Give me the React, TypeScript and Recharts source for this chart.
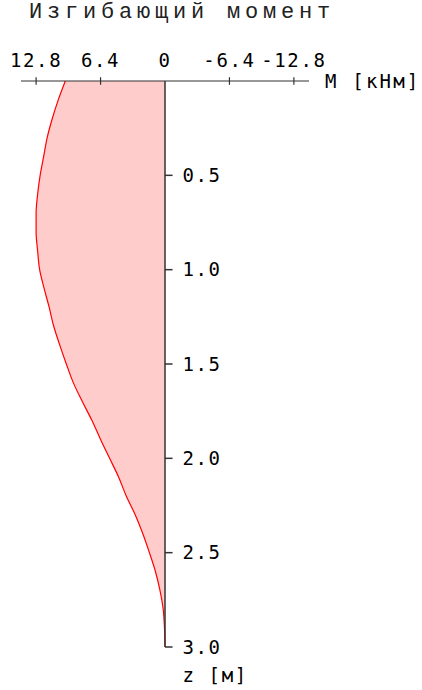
import { ComposedChart, Area, XAxis, YAxis, ReferenceLine } from 'recharts';

// глубина z [м] и изгибающий момент M [кНм]
const depth = [0, 0.1, 0.2, 0.3, 0.4, 0.5, 0.6, 0.7, 0.8, 0.9, 1.0, 1.1, 1.2, 1.3, 1.4, 1.5, 1.6, 1.7, 1.8, 1.9, 2.0, 2.1, 2.2, 2.3, 2.4, 2.5, 2.6, 2.7, 2.8, 2.9, 3.0];
const moment = [9.9, 10.6, 11.2, 11.7, 12.05, 12.4, 12.65, 12.8, 12.8, 12.65, 12.45, 12.0, 11.5, 11.05, 10.45, 9.8, 9.1, 8.2, 7.25, 6.4, 5.5, 4.6, 3.85, 2.95, 2.2, 1.55, 0.95, 0.5, 0.18, 0.05, 0];
const momentTicks = [12.8, 6.4, 0, -6.4, -12.8];
const depthTicks = [0.5, 1.0, 1.5, 2.0, 2.5, 3.0];

const data = depth.map((z, i) => ({ z, m: moment[i] }));

const mono = '"DejaVu Sans Mono", monospace';
const axisColor = '#333';
const labelStyle = { fill: '#000', fontSize: 19, fontFamily: mono, letterSpacing: 1.6 };

export default function App() {
  return (
    <div style={{ position: 'absolute', left: 0, top: 0, width: 422, height: 690, background: '#fff' }}>
      <div
        style={{
          position: 'absolute',
          left: 29,
          top: 2,
          fontFamily: '"Courier New", "Liberation Mono", monospace',
          fontSize: 22,
          lineHeight: '22px',
          letterSpacing: 4.8,
          color: '#222',
          whiteSpace: 'nowrap',
        }}
      >
        Изгибающий момент
      </div>
      <ComposedChart
        width={422}
        height={690}
        data={data}
        layout="vertical"
        margin={{ top: 51, right: 113, bottom: 43, left: 21 }}
      >
        <XAxis
          type="number"
          dataKey="m"
          orientation="top"
          reversed
          domain={[-14.3, 14.3]}
          allowDataOverflow
          ticks={momentTicks}
          interval={0}
          height={30}
          tickSize={0}
          tickMargin={14}
          axisLine={false}
          tickLine={false}
          tick={labelStyle}
          tickFormatter={(v: number) => (v === 0 ? '0' : v.toFixed(1))}
        />
        <YAxis type="number" dataKey="z" domain={[0, 3]} hide />
        <Area
          type="monotone"
          dataKey="m"
          stroke="#ff0000"
          strokeWidth={1.2}
          fill="#ffcccc"
          fillOpacity={1}
          isAnimationActive={false}
          dot={false}
          activeDot={false}
        />
        <ReferenceLine
          y={0}
          stroke={axisColor}
          strokeWidth={1.2}
          label={{ value: 'M [кНм]', position: 'right', offset: 16, ...labelStyle, letterSpacing: 2.2 }}
        />
        {momentTicks
          .filter((t) => t !== 0)
          .map((t) => (
            <ReferenceLine
              key={'mt' + t}
              segment={[{ x: t, y: -0.02 }, { x: t, y: 0.02 }]}
              stroke={axisColor}
              strokeWidth={1.2}
              ifOverflow="visible"
            />
          ))}
        <ReferenceLine
          segment={[{ x: 0, y: 0 }, { x: 0, y: 3 }]}
          stroke={axisColor}
          strokeWidth={1.5}
          ifOverflow="visible"
        />
        {depthTicks.map((t) => (
          <ReferenceLine
            key={'dt' + t}
            segment={[{ x: 0, y: t }, { x: -0.75, y: t }]}
            stroke={axisColor}
            strokeWidth={1.5}
            ifOverflow="visible"
            label={{ value: t.toFixed(1), position: 'right', offset: 10, ...labelStyle }}
          />
        ))}
        <ReferenceLine
          segment={[{ x: 0, y: 3 }, { x: -0.75, y: 3 }]}
          stroke="none"
          ifOverflow="visible"
          label={{ value: 'z [м]', position: 'right', offset: 10, dy: 28, ...labelStyle }}
        />
      </ComposedChart>
    </div>
  );
}
